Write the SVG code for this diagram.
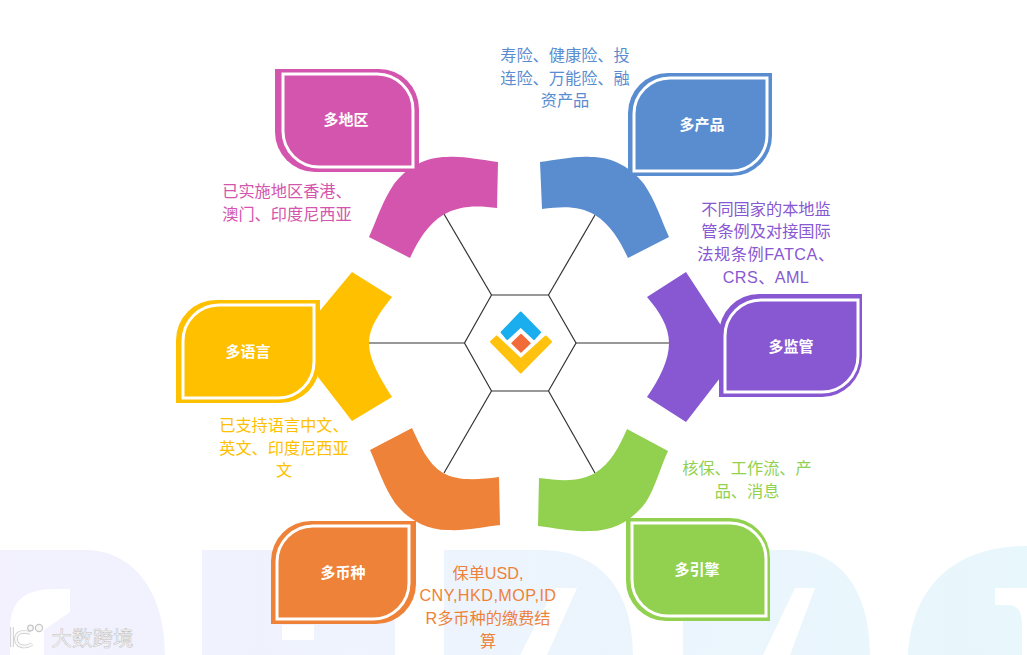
<svg xmlns="http://www.w3.org/2000/svg" width="1027" height="655" viewBox="0 0 1027 655">
<style>
text{font-family:"Liberation Sans","Noto Sans CJK SC",sans-serif;text-anchor:middle}
.d{font-size:16.2px}
.n{font-size:15px;font-weight:700;fill:#fff}
.w{fill:none;stroke:#fff;stroke-width:3}
.c{fill:none;stroke:#333;stroke-width:1.2}
.pink{fill:#d455ad}.blue{fill:#5a8dd0}.purple{fill:#8858d2}.yellow{fill:#ffc000}.orange{fill:#ee8238}.green{fill:#91d14f}
.ws{fill:none;stroke:#c6c6c6;stroke-width:3.6}
.wf{fill:none;stroke:#f8f8f8;stroke-width:2.2}
</style>
<defs>
<linearGradient id="bg" gradientUnits="userSpaceOnUse" x1="0" y1="0" x2="1027" y2="0">
<stop offset="0" stop-color="#f3f1fe"/><stop offset="0.45" stop-color="#edf4fd"/><stop offset="1" stop-color="#e8f7fc"/>
</linearGradient>
</defs>
<rect width="1027" height="655" fill="#fff"/>
<g id="background">
<path fill="url(#bg)" d="M0 550H85C132 550 165 590 165 655H44V630L70 612V589H55C25 589 10 600 10 630V655H0Z"/>
<path fill="url(#bg)" fill-rule="evenodd" d="M202 550H395V655H202ZM282 625V640H314V625Z"/>
<path fill="url(#bg)" fill-rule="evenodd" d="M444 550H540C600 550 633 590 633 655H547L577 588H555L520 655H444Z"/>
<path fill="url(#bg)" d="M683 550H790C840 550 870 590 870 655H790L815 588H795L763 655H683Z"/>
<path fill="url(#bg)" d="M908 655C912 590 950 546 1027 546V588H995V605H1008C1018 605 1022 612 1022 625V655Z"/>
</g>
<g id="connectors">
<line class="c" x1="491.5" y1="295" x2="444" y2="214"/>
<line class="c" x1="548.5" y1="295" x2="595" y2="215"/>
<line class="c" x1="576" y1="343" x2="669" y2="343"/>
<line class="c" x1="548.5" y1="391" x2="595" y2="473"/>
<line class="c" x1="491.5" y1="391" x2="444" y2="473"/>
<line class="c" x1="464.5" y1="343" x2="369" y2="343"/>
</g>
<g id="center">
<polygon class="c" points="491.5,295 548.5,295 576,343 548.5,391 491.5,391 464.5,343"/>
<path fill="#1aaeee" stroke="#1aaeee" stroke-width="2" stroke-linejoin="round" d="M520.7 312.5L501.7 332.3L507.3 339L520.7 326.5L534 339L540 332.3Z"/>
<path fill="#ffc20e" stroke="#ffc20e" stroke-width="2" stroke-linejoin="round" d="M491 341.7L496.7 336.5L520.7 359.3L545.7 336.5L551 341.7L520.7 372.5Z"/>
<path fill="#f26b38" stroke="#f26b38" stroke-width="1.5" stroke-linejoin="round" d="M521 334.5L530 343.3L521 352L512 343.3Z"/>
</g>
<g id="node-region">
<path class="pink" d="M498 162L497 208C476 205 458 206 443 215C427 225 418 241 410 258L369 237C377 219 383 200 394 184C407 167 426 157 447 157C465 156 480 160 498 162Z"/>
<path class="pink" d="M275 69H379A40 40 0 0 1 419 109V172H315A40 40 0 0 1 275 132Z"/>
<path class="w" d="M283 74H377A36 36 0 0 1 413 110V167H319A36 36 0 0 1 283 131Z"/>
<text class="n" x="346" y="125">多地区</text>
<text class="d pink" x="287" y="197">已实施地区香港、</text>
<text class="d pink" x="287" y="220">澳门、印度尼西亚</text>
</g>
<g id="node-product">
<path class="blue" d="M540 162L542 209C564 206 580 206 595 215C611 225 620 241 628 258L669 237C661 219 655 200 644 184C631 167 612 157 591 157C573 156 558 160 540 162Z"/>
<path class="blue" d="M772 73V136A40 40 0 0 1 732 176H628V113A40 40 0 0 1 668 73Z"/>
<path class="w" d="M767 78V135A36 36 0 0 1 731 171H634V114A36 36 0 0 1 670 78Z"/>
<text class="n" x="702" y="130">多产品</text>
<text class="d blue" x="565" y="61">寿险、健康险、投</text>
<text class="d blue" x="565" y="84">连险、万能险、融</text>
<text class="d blue" x="565" y="106">资产品</text>
</g>
<g id="node-regulation">
<path class="purple" d="M686 272L647 297C660 312 669 327 669 343C669 360 660 378 647 397L686 422L720 378L722 327Z"/>
<path class="purple" d="M862 294V357A40 40 0 0 1 822 397H719V334A40 40 0 0 1 759 294Z"/>
<path class="w" d="M858 300V356A36 36 0 0 1 822 392H725V336A36 36 0 0 1 761 300Z"/>
<text class="n" x="791" y="352">多监管</text>
<text class="d purple" x="766" y="215">不同国家的本地监</text>
<text class="d purple" x="766" y="237">管条例及对接国际</text>
<text class="d purple" x="766" y="260" style="letter-spacing:.55px">法规条例FATCA、</text>
<text class="d purple" x="766" y="283" style="letter-spacing:.4px">CRS、AML</text>
</g>
<g id="node-language">
<path class="yellow" d="M352 272L392 297C380 312 369 327 369 343C369 360 380 378 392 397L352 421L318 377V313Z"/>
<path class="yellow" d="M320 300V363A40 40 0 0 1 280 403H176V340A40 40 0 0 1 216 300Z"/>
<path class="w" d="M314 305V362A36 36 0 0 1 278 398H183V341A36 36 0 0 1 219 305Z"/>
<text class="n" x="248" y="357">多语言</text>
<text class="d yellow" x="284" y="431">已支持语言中文、</text>
<text class="d yellow" x="284" y="454">英文、印度尼西亚</text>
<text class="d yellow" x="284" y="476">文</text>
</g>
<g id="node-currency">
<path class="orange" d="M500 525L499 477C476 480 458 481 443 473C427 463 420 445 412 428L370 450C378 468 384 487 395 503C408 520 427 530 448 530C466 531 482 527 500 525Z"/>
<path class="orange" d="M416 521V584A40 40 0 0 1 376 624H271V561A40 40 0 0 1 311 521Z"/>
<path class="w" d="M409 526V583A36 36 0 0 1 373 619H277V562A36 36 0 0 1 313 526Z"/>
<text class="n" x="343" y="578">多币种</text>
<text class="d orange" x="488" y="579">保单USD,</text>
<text class="d orange" x="488" y="601" style="letter-spacing:.45px">CNY,HKD,MOP,ID</text>
<text class="d orange" x="488" y="624">R多币种的缴费结</text>
<text class="d orange" x="488" y="647">算</text>
</g>
<g id="node-engine">
<path class="green" d="M538 526L539 478C562 481 580 482 595 473C611 463 619 447 627 429L668 451C660 468 656 486 646 502C632 521 613 531 590 531C572 532 556 528 538 526Z"/>
<path class="green" d="M626 518H730A40 40 0 0 1 770 558V621H666A40 40 0 0 1 626 581Z"/>
<path class="w" d="M632 523H730A36 36 0 0 1 766 559V616H668A36 36 0 0 1 632 580Z"/>
<text class="n" x="697" y="575">多引擎</text>
<text class="d green" x="747" y="474">核保、工作流、产</text>
<text class="d green" x="747" y="497">品、消息</text>
</g>
<g id="watermark">
<path class="ws" d="M12 627V647"/>
<path class="wf" d="M12 627V647"/>
<path class="ws" d="M30 633C20 630 16 634 16 639C16 646 24 649 32 644"/>
<path class="wf" d="M30 633C20 630 16 634 16 639C16 646 24 649 32 644"/>
<circle cx="30.5" cy="628" r="2.8" fill="#f8f8f8" stroke="#c6c6c6" stroke-width="1.2"/>
<circle cx="39" cy="628" r="3.6" fill="#f8f8f8" stroke="#c6c6c6" stroke-width="1.2"/>
<text x="92.5" y="646" style="font-size:20.5px" fill="#f8f8f8" stroke="#c0c0c0" stroke-width="0.5">大数跨境</text>
</g>
</svg>
